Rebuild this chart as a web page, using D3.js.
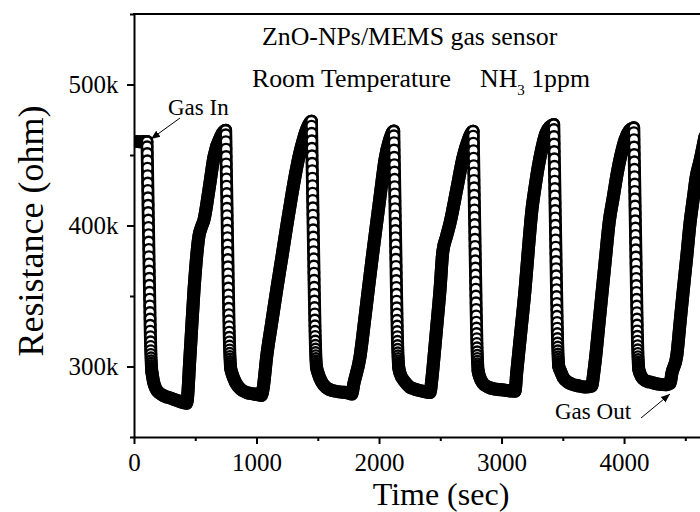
<!DOCTYPE html>
<html>
<head>
<meta charset="utf-8">
<script src="https://cdn.jsdelivr.net/npm/d3@7"></script>
<style>
  html, body { margin: 0; padding: 0; background: #fff; }
  svg { display: block; }
  text { font-family: "Liberation Serif", "Times New Roman", serif; fill: #000; }
</style>
</head>
<body>
<svg id="chart" width="700" height="512"></svg>
<script>
// ---------------- data ----------------
// X axis ticks (time, s) and Y axis ticks (resistance, kOhm)
const xMajorTicks = [0, 1000, 2000, 3000, 4000];
const xMinorTicks = [500, 1500, 2500, 3500, 4500];
const yMajorTicks = [300, 400, 500];
const yMinorTicks = [250, 350, 450, 550];

// Slow parts of the trace (baseline before gas, recovery, rise): time (s) / resistance (kOhm)
const slowT = [30, 50, 75, 100,
  160, 180, 210, 250, 300, 350, 400, 430,
  457, 490, 531, 551, 571, 612, 653, 708, 743,
  800, 830, 870, 920, 980, 1040,
  1055, 1083, 1124, 1165, 1208, 1251, 1285, 1320, 1352, 1382, 1410, 1440,
  1500, 1532, 1570, 1616, 1680, 1747, 1777,
  1795, 1845, 1880, 1913, 1947, 1981, 2015, 2049, 2085, 2112,
  2172, 2212, 2250, 2290, 2340, 2392, 2416,
  2430, 2449, 2474, 2498, 2520, 2550, 2580, 2634, 2688, 2729, 2760,
  2820, 2849, 2890, 2950, 3029, 3080, 3110,
  3124, 3158, 3192, 3220, 3247, 3275, 3300, 3330, 3363, 3395, 3420,
  3480, 3505, 3540, 3573, 3630, 3682, 3736,
  3752, 3769, 3796, 3823, 3850, 3878, 3912, 3945, 3976, 4008, 4045, 4072,
  4130, 4158, 4190, 4212, 4280, 4349, 4376,
  4390, 4430, 4457, 4484, 4512, 4539, 4565, 4588, 4620, 4660];
const slowR = [459.5, 459.4, 459.6, 459.5,
  289, 284, 281, 279, 277.5, 276, 274.5, 274,
  307.3, 354.6, 393, 399, 404, 425.5, 449, 463.3, 467.4,
  295, 288.5, 284, 281.5, 280.5, 279.5,
  285, 307, 331, 354.6, 378, 402, 420, 437.4, 451, 461, 468.5, 473.5,
  296, 289, 285, 283, 282, 281.3, 280.5,
  288, 307, 331, 355, 379, 402, 425, 447, 460.5, 466.5,
  295, 289, 285.5, 284, 282.8, 281.8, 281.5,
  290, 307, 331, 354.6, 381, 392, 402, 425.5, 449.2, 461, 466.5,
  293, 288, 285.5, 284, 283.2, 282.6, 282.5,
  295.7, 325, 354.6, 384, 410.3, 428, 441.8, 455, 465.7, 470, 471.5,
  297, 292, 289, 287.5, 286.3, 285.5, 286,
  295, 307.3, 331, 354.6, 378, 402, 420, 437.4, 450.5, 461, 467.5, 469.2,
  295, 291, 289.5, 289, 287.5, 287, 288,
  295, 307.3, 331, 354.6, 378, 402, 419, 434, 446, 463];

// Fast response after each "gas in": start time (s), readings every 1 s (kOhm)
const fallStart = [106, 748, 1448, 2120, 2768, 3426, 4079];
const fall1 = [459.5, 456.0, 451.2, 446.0, 440.8, 435.5, 430.3, 425.0, 419.8, 414.5, 409.3, 404.0, 398.8, 393.6, 388.4, 383.2, 378.0, 372.9, 367.8, 362.7, 357.7, 352.8, 347.9, 343.1, 338.4, 333.8, 329.4, 325.2, 321.3, 317.7, 314.4, 311.4, 308.7, 306.3, 304.2, 302.4, 300.8, 299.4, 298.2, 297.2, 296.3, 295.5];
const fall2 = [467.5, 464.5, 459.6, 454.3, 449.0, 443.8, 438.5, 433.2, 428.0, 422.8, 417.5, 412.3, 407.1, 401.9, 396.7, 391.5, 386.3, 381.1, 376.0, 370.9, 365.8, 360.8, 355.8, 350.9, 346.1, 341.4, 336.9, 332.5, 328.4, 324.5, 320.9, 317.6, 314.6, 311.9, 309.5, 307.3, 305.4, 303.7, 302.2, 300.9, 299.8, 298.8];
const fall3 = [474.0, 470.6, 465.5, 460.2, 454.9, 449.6, 444.3, 439.0, 433.7, 428.4, 423.1, 417.9, 412.7, 407.5, 402.3, 397.1, 391.9, 386.7, 381.6, 376.5, 371.4, 366.3, 361.3, 356.3, 351.4, 346.6, 341.9, 337.4, 333.1, 329.0, 325.1, 321.5, 318.2, 315.2, 312.5, 310.0, 307.8, 305.8, 304.0, 302.4, 301.0, 299.8];
const fall4 = [467.0, 463.8, 458.9, 453.7, 448.5, 443.3, 438.1, 432.9, 427.7, 422.5, 417.3, 412.1, 406.9, 401.7, 396.6, 391.5, 386.4, 381.3, 376.2, 371.1, 366.1, 361.1, 356.2, 351.3, 346.5, 341.8, 337.3, 332.9, 328.8, 324.9, 321.3, 318.0, 315.0, 312.3, 309.9, 307.7, 305.8, 304.1, 302.6, 301.3, 300.2, 299.2];
const fall5 = [466.9, 463.5, 458.5, 453.2, 447.9, 442.6, 437.4, 432.1, 426.9, 421.6, 416.4, 411.2, 406.0, 400.8, 395.6, 390.4, 385.3, 380.2, 375.1, 370.0, 365.0, 360.0, 355.0, 350.1, 345.3, 340.6, 336.0, 331.6, 327.4, 323.5, 319.9, 316.5, 313.4, 310.6, 308.1, 305.9, 303.9, 302.1, 300.5, 299.1, 297.9, 296.8];
const fall6 = [471.6, 468.2, 463.2, 457.9, 452.6, 447.4, 442.1, 436.9, 431.6, 426.4, 421.1, 415.9, 410.7, 405.5, 400.3, 395.1, 389.9, 384.8, 379.7, 374.6, 369.5, 364.5, 359.5, 354.6, 349.7, 344.9, 340.2, 335.7, 331.4, 327.3, 323.5, 320.0, 316.8, 313.9, 311.3, 309.0, 307.0, 305.2, 303.6, 302.2, 301.0, 300.0];
const fall7 = [469.3, 466.0, 461.0, 455.8, 450.5, 445.3, 440.0, 434.8, 429.5, 424.3, 419.1, 413.9, 408.7, 403.5, 398.3, 393.1, 388.0, 382.9, 377.8, 372.7, 367.6, 362.6, 357.6, 352.7, 347.8, 343.0, 338.3, 333.8, 329.5, 325.4, 321.6, 318.1, 314.9, 312.0, 309.4, 307.1, 305.1, 303.3, 301.7, 300.3, 299.1, 298.1];
const fallSeries = [fall1, fall2, fall3, fall4, fall5, fall6, fall7];

// ---------------- build ----------------
const svg = d3.select("#chart");
const x = d3.scaleLinear().domain([0, 4620]).range([134, 700]);
const y = d3.scaleLinear().domain([250, 550]).range([437, 14]);

const fallPtsBy = fallSeries.map((arr, k) => arr.map((r, i) => ({t: fallStart[k] + i, r})));
const fallPts = fallPtsBy.flat();
const slowPts = slowT.map((t, i) => ({t, r: slowR[i]}));
const allPts = slowPts.concat(fallPts).sort((a, b) => a.t - b.t);
const fallEnd = fallPtsBy.map(a => a[a.length - 1].t);

const defs = svg.append("defs");
defs.append("clipPath").attr("id", "plotclip")
  .append("rect").attr("x", 134).attr("y", 14).attr("width", 566).attr("height", 423);
defs.append("marker")
  .attr("id", "arrow").attr("viewBox", "0 0 10 10").attr("refX", 10).attr("refY", 5)
  .attr("markerWidth", 9).attr("markerHeight", 9).attr("markerUnits", "userSpaceOnUse")
  .attr("orient", "auto")
  .append("path").attr("d", "M0,1 L10,5 L0,9 Z").attr("fill", "#000");

const plot = svg.append("g").attr("clip-path", "url(#plotclip)");
const line = d3.line().x(d => x(d.t)).y(d => y(d.r)).curve(d3.curveMonotoneX);
const BAND = 13;

// dense overlapping markers form a solid band (drawn under everything)
plot.append("path").datum(allPts)
  .attr("fill", "none").attr("stroke", "#000").attr("stroke-width", BAND)
  .attr("stroke-linejoin", "round").attr("stroke-linecap", "round").attr("d", line);

// draw chronologically: slow segment, then the open circles of the next fast drop
for (let k = 0; k <= fallSeries.length; k++) {
  const lo = k === 0 ? -Infinity : fallEnd[k - 1];
  const hi = k === fallSeries.length ? Infinity : fallStart[k];
  const seg = allPts.filter(p => p.t >= lo && p.t <= hi);
  plot.append("path").datum(seg)
    .attr("fill", "none").attr("stroke", "#000").attr("stroke-width", BAND)
    .attr("stroke-linejoin", "round").attr("stroke-linecap", "round").attr("d", line);
  if (k < fallSeries.length) {
    plot.append("g").selectAll("circle").data(fallPtsBy[k]).join("circle")
      .attr("cx", d => x(d.t)).attr("cy", d => y(d.r)).attr("r", 5.1)
      .attr("fill", "#fff").attr("stroke", "#000").attr("stroke-width", 2.4);
  }
}

// frame top
svg.append("line").attr("x1", 133).attr("x2", 700).attr("y1", 14).attr("y2", 14)
  .attr("stroke", "#000").attr("stroke-width", 2);

// axes
function styleAxis(g) {
  g.attr("font-family", null);
  g.selectAll("path.domain").attr("stroke", "#000").attr("stroke-width", 2);
  g.selectAll(".tick line").attr("stroke", "#000").attr("stroke-width", 2);
  g.selectAll(".tick text").attr("fill", "#000");
}
const gx = svg.append("g").attr("transform", "translate(0,437)")
  .call(d3.axisBottom(x).tickValues(xMajorTicks).tickFormat(d3.format("d")).tickSize(7).tickSizeOuter(0).tickPadding(9));
styleAxis(gx);
gx.selectAll(".tick text").attr("font-size", 25);
const gxm = svg.append("g").attr("transform", "translate(0,437)")
  .call(d3.axisBottom(x).tickValues(xMinorTicks).tickFormat("").tickSize(4).tickSizeOuter(0));
styleAxis(gxm);
gxm.select("path.domain").remove();

const gy = svg.append("g").attr("transform", "translate(134,0)")
  .call(d3.axisLeft(y).tickValues(yMajorTicks).tickFormat(d => d + "k").tickSize(7).tickSizeOuter(0).tickPadding(8.5));
styleAxis(gy);
gy.selectAll(".tick text").attr("font-size", 25);
const gym = svg.append("g").attr("transform", "translate(134,0)")
  .call(d3.axisLeft(y).tickValues(yMinorTicks).tickFormat("").tickSize(4).tickSizeOuter(0));
styleAxis(gym);
gym.select("path.domain").remove();

// axis titles
svg.append("text").attr("x", 441).attr("y", 505).attr("text-anchor", "middle")
  .attr("font-size", 32).text("Time (sec)");
svg.append("text").attr("transform", "translate(43,231) rotate(-90)").attr("text-anchor", "middle")
  .attr("font-size", 36).text("Resistance (ohm)");

// annotations
svg.append("text").attr("x", 262).attr("y", 45).attr("font-size", 25.8).text("ZnO-NPs/MEMS gas sensor");
svg.append("text").attr("x", 252).attr("y", 87).attr("font-size", 25.8).text("Room Temperature");
const nh = svg.append("text").attr("x", 480).attr("y", 87).attr("font-size", 25.8);
nh.append("tspan").text("NH");
nh.append("tspan").attr("font-size", 15).attr("dy", 8).text("3");
nh.append("tspan").attr("dy", -8).text(" 1ppm");

svg.append("text").attr("x", 168).attr("y", 115).attr("font-size", 23).text("Gas In");
svg.append("line").attr("x1", 180).attr("y1", 118).attr("x2", 151).attr("y2", 139)
  .attr("stroke", "#000").attr("stroke-width", 1).attr("marker-end", "url(#arrow)");
svg.append("text").attr("x", 555).attr("y", 419).attr("font-size", 23).text("Gas Out");
svg.append("line").attr("x1", 641).attr("y1", 418).attr("x2", 670).attr("y2", 394)
  .attr("stroke", "#000").attr("stroke-width", 1).attr("marker-end", "url(#arrow)");
</script>
</body>
</html>
